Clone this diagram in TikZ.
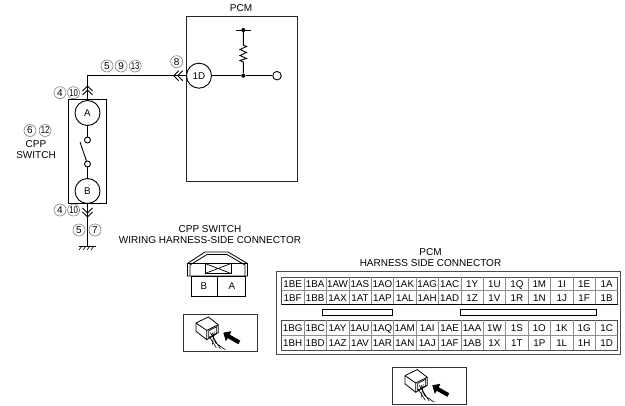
\documentclass[tikz,border=0pt]{standalone}
\usepackage{fontspec}
\setmainfont{Liberation Sans}
\usetikzlibrary{positioning}

\newcommand{\nar}[1]{\scalebox{.78}[1]{#1}}

\tikzset{
  wire/.style={line width=.9pt},
  pincirc/.style={circle,draw,line width=.9pt,minimum size=25pt,inner sep=0pt,fill=white,font=\fontsize{9.8}{10}\selectfont},
  contact/.style={circle,draw,line width=.9pt,minimum size=6pt,inner sep=0pt,fill=white},
  term/.style={circle,draw,line width=.9pt,minimum size=8.5pt,inner sep=0pt},
  junct/.style={circle,fill=black,minimum size=4pt,inner sep=0pt},
  num/.style={circle,draw=black!50,line width=.6pt,minimum size=12pt,inner sep=-2pt,font=\fontsize{10}{10}\selectfont},
  captxt/.style={inner sep=0pt,align=center,font=\fontsize{10}{11.6}\selectfont},
  pinlab/.style={inner sep=0pt,text height=7pt,text depth=0pt,font=\fontsize{9.8}{10}\selectfont},
  chev/.pic={
    \draw[wire] (-5,5) -- (0,0) -- (5,5);
    \draw[wire] (-5,9) -- (0,4) -- (5,9);
  },
  viewicon/.pic={
    \draw[line width=.9pt,black!80] (0,0) rectangle (74,37);
    \draw[line width=.8pt,fill=white] (12.7,8.3) -- (25,2.3) -- (35,10) -- (35,18) -- (23.4,25) -- (12.7,16.5) -- cycle;
    \draw[line width=.8pt] (12.7,8.3) -- (23.4,15.7) -- (35,10) (23.4,15.7) -- (23.4,25);
    \draw[line width=.7pt] (25.5,16) -- (25.5,23) -- (33.5,18.5) -- (33.5,12) -- cycle;
    \draw[line width=.6pt] (27,18) -- (37,34) (29,18) -- (32,28) -- (42,35) (31,17) -- (29,30) (26,22) -- (33,33);
    \fill (40,18) -- (48,16.5) -- (46.5,20) -- (57,26) -- (55,29.5) -- (44.5,23.5) -- (42.5,26.5) -- cycle;
  }
}

\newcommand{\pinrow}[2]{%
  \foreach \lab [count=\i from 0] in {#2}
    \node[pinlab] (pin-#1-\i) at (292.7+22.42*\i,#1) {\lab};
}

\begin{document}
\begin{tikzpicture}[x=1pt,y=-1pt]

  \useasboundingbox (0,0) rectangle (625,406);

  % PCM

  \draw[line width=1pt,black!85] (186.5,16.5) rectangle (297,181.5);
  \node[captxt] (pcmcap) at (241,8.5) {PCM};
  \node[pincirc] (pin1D) at (199,75.7) {1D};
  \node[junct] (jtop) at (243.3,30) {};
  \node[junct] (jmid) at (243.3,75.7) {};
  \node[term] (out) at (277,75.7) {};
  \coordinate (barl) at (236,30);
  \coordinate (barr) at (251,30);
  \draw[wire] (barl) -- (barr);
  \draw[wire] (jtop) -- (243.3,45) -- (246.5,46.5) -- (240,49.5) -- (246.5,52.5) -- (240,55.5) -- (246.5,58.5) -- (240,60.5) -- (243.3,62) -- (jmid);
  \draw[wire] (pin1D) -- (jmid) -- (out);

  % Switch

  \draw[line width=1pt] (68.7,99.5) rectangle (106.3,203.5);
  \node[pincirc] (pinA) at (87.5,113) {A};
  \node[contact] (c1) at (87.5,140) {};
  \node[contact] (c2) at (87.5,164) {};
  \node[pincirc] (pinB) at (87.5,191) {B};
  \coordinate (corner) at (87.5,75.7);
  \coordinate (gnd) at (87.5,246);
  \draw[wire] (pinA) -- (c1);
  \draw[wire] (c2) -- (pinB);
  \draw[wire] (c2) -- (80,142);
  \draw[wire] (pinA) -- (corner) -- (pin1D);
  \draw[wire] (pinB) -- (gnd);
  \draw[wire] (78.5,246) -- (95.5,246);
  \foreach \x in {82,86,90,94}
    \draw[line width=.6pt] (\x,246) -- (\x-3,250);

  \pic at (87.5,86) {chev};
  \pic[rotate=180] at (87.5,217) {chev};
  \pic[rotate=90] at (173.7,75.7) {chev};

  % Labels

  \node[num] (n1) at (60,92.7) {4};
  \node[num,right=1pt of n1] (n2) {\nar{10}};
  \node[num] (n3) at (107,66) {5};
  \node[num,right=1.5pt of n3] (n4) {9};
  \node[num,right=1.5pt of n4] (n5) {\nar{13}};
  \node[num] (n6) at (176.7,61.7) {8};
  \node[num] (n7) at (30,130.5) {6};
  \node[num,right=2.5pt of n7] (n8) {\nar{12}};
  \node[num] (n9) at (60,210) {4};
  \node[num,right=1pt of n9] (n10) {\nar{10}};
  \node[num] (n11) at (79,230) {5};
  \node[num] (n12) at (95,230) {7};
  \node[captxt] (swcap) at (36,149.5) {CPP\\SWITCH};

  % Switch connector

  \node[captxt] (conncap) at (210,234.5) {CPP SWITCH\\WIRING HARNESS-SIDE CONNECTOR};
  \draw[line width=.8pt] (187.5,276) -- (187.5,263.5) -- (205,252) -- (228,252) -- (247.5,263.5) -- (247.5,276) -- cycle;
  \draw[line width=.8pt] (190,276) -- (190,265) -- (207,254.5) -- (227,254.5) -- (245,265) -- (245,276);
  \draw[line width=.8pt] (187.5,263.5) -- (247.5,263.5);
  \draw[line width=.8pt] (205,263.5) rectangle (231,273.5);
  \draw[line width=.7pt] (205,263.5) -- (231,273.5) (205,273.5) -- (231,263.5);
  \draw[line width=.9pt] (191.7,276) rectangle (245,296);
  \draw[line width=.9pt] (217.7,276) -- (217.7,296);
  \node[pinlab] (labB) at (204,286) {B};
  \node[pinlab] (labA) at (232,286) {A};
  \pic at (183.3,314.7) {viewicon};

  % PCM connector

  \node[captxt] (hcap) at (430.5,257.5) {PCM\\HARNESS SIDE CONNECTOR};
  \draw[line width=.9pt,black!70] (276.7,271.7) rectangle (620.7,354.3);
  \draw[line width=.6pt,black!70] (281.5,305) -- (281.5,277.3) -- (617.5,277.3) -- (617.5,305);
  \draw[line width=.8pt,black!70] (281.5,320) rectangle (617.5,350);
  \draw[line width=.5pt,black!45] (281.5,290.7) -- (617.5,290.7);
  \draw[line width=.5pt,black!45] (281.5,335.7) -- (617.5,335.7);
  \foreach \i in {1,...,14} {
    \draw[line width=.5pt,black!45] (281.5+22.42*\i,277.3) -- (281.5+22.42*\i,305);
    \draw[line width=.5pt,black!45] (281.5+22.42*\i,320) -- (281.5+22.42*\i,350);
  }
  \draw[line width=1pt] (281.5,305) -- (617.5,305);
  \draw[line width=.8pt] (322.7,309.5) rectangle (392.3,315);
  \draw[line width=.8pt] (460,309.5) rectangle (596.7,315);
  \pinrow{284}{1BE,1BA,1AW,1AS,1AO,1AK,1AG,1AC,1Y,1U,1Q,1M,1I,1E,1A}
  \pinrow{298}{1BF,1BB,1AX,1AT,1AP,1AL,1AH,1AD,1Z,1V,1R,1N,1J,1F,1B}
  \pinrow{328}{1BG,1BC,1AY,1AU,1AQ,1AM,1AI,1AE,1AA,1W,1S,1O,1K,1G,1C}
  \pinrow{343}{1BH,1BD,1AZ,1AV,1AR,1AN,1AJ,1AF,1AB,1X,1T,1P,1L,1H,1D}
  \pic at (392.3,367.3) {viewicon};

\end{tikzpicture}
\end{document}
